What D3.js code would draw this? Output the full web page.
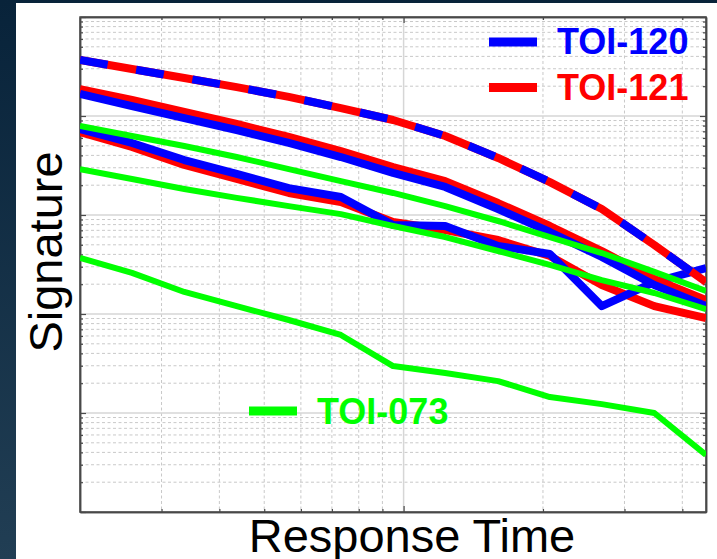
<!DOCTYPE html>
<html>
<head>
<meta charset="utf-8">
<script src="https://cdn.jsdelivr.net/npm/d3@7"></script>
<style>
  html, body { margin: 0; padding: 0; background: #0c2639; }
  svg { display: block; }
</style>
</head>
<body>
<svg id="chart" width="717" height="559"></svg>
<script>
// ---------------- data ----------------
const times = [2, 2.59, 3.36, 4.36, 5.65, 7.32, 9.49, 12.3, 16, 20.7, 26.8, 34.8, 45];

// model curve shared by TOI-120 and TOI-121 (drawn as alternating blue/red dashes)
const modelCurve = [0.368, 0.298, 0.242, 0.196, 0.156, 0.120, 0.0911, 0.0628, 0.0377, 0.0215, 0.0115, 0.00498, 0.00210];

const toi120Upper = [0.167, 0.126, 0.0954, 0.0722, 0.0534, 0.0385, 0.0266, 0.0192, 0.0115, 0.00673, 0.00377, 0.00196, 0.00120];
const toi121Upper = [0.187, 0.145, 0.110, 0.0830, 0.0614, 0.0443, 0.0305, 0.0220, 0.0132, 0.00774, 0.00433, 0.00226, 0.00138];

const toi120Lower = [0.0739, 0.0534, 0.0359, 0.0260, 0.0187, 0.0152, 0.00792, 0.00774, 0.00486, 0.00404, 0.00120, 0.00210, 0.00291];
const toi121Lower = [0.0689, 0.0486, 0.0320, 0.0231, 0.0167, 0.0135, 0.00850, 0.00705, 0.00559, 0.00385, 0.00196, 0.00120, 0.000911];

const toi073A = [0.0792, 0.0628, 0.0498, 0.0385, 0.0291, 0.0220, 0.0167, 0.0123, 0.00870, 0.00599, 0.00413, 0.00266, 0.00171];
const toi073B = [0.0291, 0.0231, 0.0183, 0.0149, 0.0123, 0.0102, 0.00774, 0.00599, 0.00433, 0.00313, 0.00220, 0.00163, 0.00112];
const toi073C = [0.00368, 0.00260, 0.00167, 0.00120, 0.000870, 0.000614, 0.000298, 0.000253, 0.000210, 0.000145, 0.000123, 0.000100, 0.0000377];

const legendLabels = ["TOI-120", "TOI-121", "TOI-073"];
const xLabel = "Response Time";
const yLabel = "Signature";

const xDomain = [2, 45];
const yDomain = [1e-5, 1];

// ---------------- layout ----------------
const svg = d3.select("#chart");
const W = 717, H = 559;
const plot = { left: 80, right: 706, top: 17, bottom: 512 };
const BLUE = "#0000ff", RED = "#ff0000", GREEN = "#00ff00";
const FONT = "'Liberation Sans', Arial, Helvetica, sans-serif";

// background
const defs = svg.append("defs");
const grad = defs.append("linearGradient").attr("id", "bg").attr("x1", 0).attr("y1", 0).attr("x2", 0).attr("y2", 1);
grad.append("stop").attr("offset", "0%").attr("stop-color", "#08233a");
grad.append("stop").attr("offset", "100%").attr("stop-color", "#213e54");
svg.append("rect").attr("width", W).attr("height", H).attr("fill", "url(#bg)");
svg.append("rect").attr("x", 16).attr("y", 3).attr("width", W - 16).attr("height", H - 3).attr("fill", "#ffffff");

defs.append("clipPath").attr("id", "clip").append("rect")
  .attr("x", plot.left).attr("y", plot.top)
  .attr("width", plot.right - plot.left).attr("height", plot.bottom - plot.top);

const x = d3.scaleLog().domain(xDomain).range([plot.left, plot.right]);
const y = d3.scaleLog().domain(yDomain).range([plot.bottom, plot.top]);

// tick values
const xMajor = [10];
const xMinor = [3, 4, 5, 6, 7, 8, 9, 20, 30, 40];
const yMajor = [1e-4, 1e-3, 1e-2, 1e-1];
const yMinor = [];
for (let e = -5; e < 0; e++) for (let m = 2; m <= 9; m++) yMinor.push(m * Math.pow(10, e));

// grid
const grid = svg.append("g");
grid.selectAll(".hmin").data(yMinor).join("line")
  .attr("x1", plot.left).attr("x2", plot.right)
  .attr("y1", d => y(d)).attr("y2", d => y(d))
  .attr("stroke", "#c9c9c9").attr("stroke-width", 1).attr("stroke-dasharray", "3,2.5");
grid.selectAll(".vmin").data(xMinor).join("line")
  .attr("y1", plot.top).attr("y2", plot.bottom)
  .attr("x1", d => x(d)).attr("x2", d => x(d))
  .attr("stroke", "#c9c9c9").attr("stroke-width", 1).attr("stroke-dasharray", "3,2.5");
grid.selectAll(".hmaj").data(yMajor).join("line")
  .attr("x1", plot.left).attr("x2", plot.right)
  .attr("y1", d => y(d)).attr("y2", d => y(d))
  .attr("stroke", "#d6d6d6").attr("stroke-width", 1.5);
grid.selectAll(".vmaj").data(xMajor).join("line")
  .attr("y1", plot.top).attr("y2", plot.bottom)
  .attr("x1", d => x(d)).attr("x2", d => x(d))
  .attr("stroke", "#d6d6d6").attr("stroke-width", 1.5);

// axes (box with inward ticks, no labels)
const axisColor = "#4a4a4a";
function styleAxis(g) {
  g.selectAll("path").attr("stroke", axisColor).attr("stroke-width", 1.5);
  g.selectAll("line").attr("stroke", axisColor).attr("stroke-width", 1.2);
  g.selectAll("text").remove();
}
const fmt = () => "";
const yAllMajor = [1e-5, 1e-4, 1e-3, 1e-2, 1e-1, 1];
svg.append("g").attr("transform", `translate(${plot.left},0)`)
  .call(d3.axisRight(y).tickValues(yMinor).tickSize(3).tickSizeOuter(0).tickFormat(fmt)).call(styleAxis);
svg.append("g").attr("transform", `translate(${plot.left},0)`)
  .call(d3.axisRight(y).tickValues(yAllMajor).tickSize(6).tickSizeOuter(0).tickFormat(fmt)).call(styleAxis);
svg.append("g").attr("transform", `translate(${plot.right},0)`)
  .call(d3.axisLeft(y).tickValues(yMinor).tickSize(3).tickSizeOuter(0).tickFormat(fmt)).call(styleAxis);
svg.append("g").attr("transform", `translate(${plot.right},0)`)
  .call(d3.axisLeft(y).tickValues(yAllMajor).tickSize(6).tickSizeOuter(0).tickFormat(fmt)).call(styleAxis);
svg.append("g").attr("transform", `translate(0,${plot.bottom})`)
  .call(d3.axisTop(x).tickValues(xMinor).tickSize(3).tickSizeOuter(0).tickFormat(fmt)).call(styleAxis);
svg.append("g").attr("transform", `translate(0,${plot.bottom})`)
  .call(d3.axisTop(x).tickValues(xMajor).tickSize(6).tickSizeOuter(0).tickFormat(fmt)).call(styleAxis);
svg.append("g").attr("transform", `translate(0,${plot.top})`)
  .call(d3.axisBottom(x).tickValues(xMinor).tickSize(3).tickSizeOuter(0).tickFormat(fmt)).call(styleAxis);
svg.append("g").attr("transform", `translate(0,${plot.top})`)
  .call(d3.axisBottom(x).tickValues(xMajor).tickSize(6).tickSizeOuter(0).tickFormat(fmt)).call(styleAxis);
svg.append("rect")
  .attr("x", plot.left).attr("y", plot.top)
  .attr("width", plot.right - plot.left).attr("height", plot.bottom - plot.top)
  .attr("fill", "none").attr("stroke", axisColor).attr("stroke-width", 1.5);

// lines
const line = d3.line().x(d => x(d[0])).y(d => y(d[1]));
const pts = vals => times.map((t, i) => [t, vals[i]]);
const lines = svg.append("g").attr("clip-path", "url(#clip)");
function draw(vals, color, width, dash) {
  const p = lines.append("path").datum(pts(vals)).attr("d", line)
    .attr("fill", "none").attr("stroke", color).attr("stroke-width", width)
    .attr("stroke-linejoin", "round");
  if (dash) p.attr("stroke-dasharray", dash);
  return p;
}
draw(toi121Lower, RED, 8);
draw(toi120Lower, BLUE, 8);
draw(toi121Upper, RED, 8);
draw(toi120Upper, BLUE, 8);
draw(modelCurve, RED, 8);
draw(modelCurve, BLUE, 8, "28,29");
draw(toi073A, GREEN, 6);
draw(toi073B, GREEN, 6);
draw(toi073C, GREEN, 6);

// legend
const legend = [
  { label: legendLabels[0], color: BLUE, lx: 489, ly: 42, tx: 557, ty: 54 },
  { label: legendLabels[1], color: RED, lx: 489, ly: 87.5, tx: 557, ty: 100 },
  { label: legendLabels[2], color: GREEN, lx: 249, ly: 411, tx: 317, ty: 424 }
];
const lg = svg.append("g");
legend.forEach(d => {
  lg.append("line").attr("x1", d.lx).attr("x2", d.lx + 48).attr("y1", d.ly).attr("y2", d.ly)
    .attr("stroke", d.color).attr("stroke-width", 9);
  lg.append("text").attr("x", d.tx).attr("y", d.ty).text(d.label)
    .attr("fill", d.color).attr("font-family", FONT).attr("font-weight", "bold").attr("font-size", 36);
});

// axis titles
svg.append("text").attr("x", 412).attr("y", 552).attr("text-anchor", "middle")
  .attr("font-family", FONT).attr("font-size", 47).attr("fill", "#000").text(xLabel);
svg.append("text").attr("transform", "translate(62,252) rotate(-90)").attr("text-anchor", "middle")
  .attr("font-family", FONT).attr("font-size", 47).attr("fill", "#000").text(yLabel);
</script>
</body>
</html>
